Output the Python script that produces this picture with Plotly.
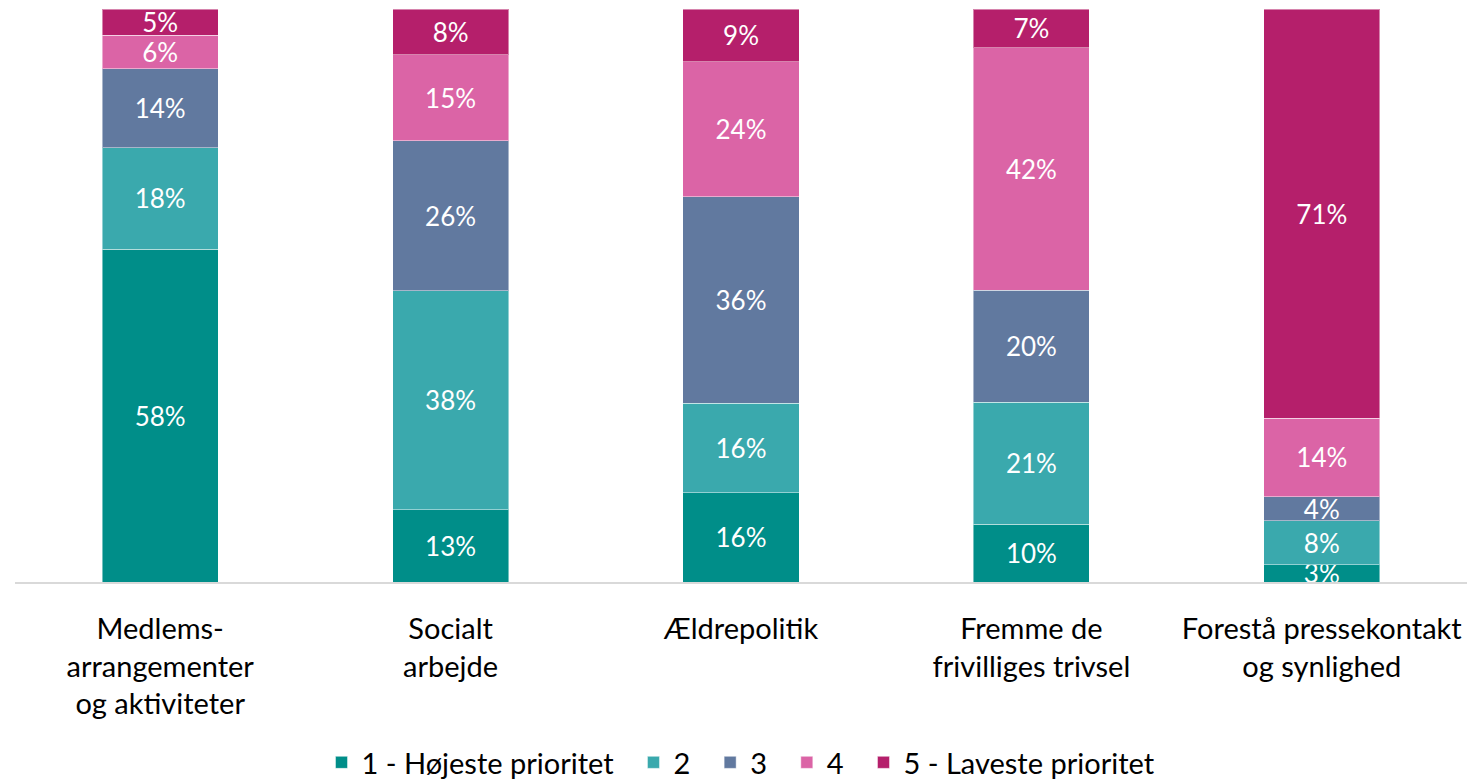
import plotly.graph_objects as go

categories = ["Medlems-<br>arrangementer<br>og aktiviteter", "Socialt<br>arbejde", "Ældrepolitik",
              "Fremme de<br>frivilliges trivsel", "Forestå pressekontakt<br>og synlighed"]
series_names = ["1 - Højeste prioritet", "2", "3", "4", "5 - Laveste prioritet"]
p1 = [58.1, 12.6, 15.6, 10.1, 3.0]
p2 = [17.7, 38.2, 15.6, 21.3, 7.7]
p3 = [13.8, 26.2, 36.0, 19.5, 4.2]
p4 = [5.8, 15.0, 23.6, 42.3, 13.7]
p5 = [4.6, 8.0, 9.2, 6.8, 71.4]
series_values = [p1, p2, p3, p4, p5]
colors = ["#008E89", "#3AA9AD", "#61799F", "#DB64A6", "#B51F6B"]

FONT = "Lato"
PAD = "\u00a0\u00a0"
fig = go.Figure()
for i, (name, vals, col) in enumerate(zip(series_names, series_values, colors)):
    fig.add_trace(go.Bar(
        x=categories, y=vals, name=name + (PAD if i < len(series_names) - 1 else ""),
        marker=dict(color=col, line=dict(color="rgba(255,255,255,0.45)", width=1)),
        texttemplate="%{y:.0f}%", textposition="inside", insidetextanchor="middle",
        textangle=0, insidetextfont=dict(color="white", size=26, family=FONT),
        hoverinfo="skip",
    ))

# page body has an 8px default margin, so the figure is sized/offset accordingly
fig.update_layout(
    barmode="stack", bargap=0.6,
    width=1460, height=773,
    margin=dict(l=7, r=1, t=1, b=199, autoexpand=False),
    paper_bgcolor="white", plot_bgcolor="white",
    font=dict(family=FONT, size=29, color="black"),
    uniformtext=dict(minsize=26, mode="show"),
    showlegend=True,
    legend=dict(orientation="h", x=0.5, xanchor="center", y=-0.315, yanchor="middle",
                font=dict(size=29, family=FONT), itemwidth=30, traceorder="normal"),
    xaxis=dict(showline=True, linecolor="#D9D9D9", linewidth=2, ticks="", automargin=False,
               tickfont=dict(size=29, family=FONT, color="black"), ticklabelstandoff=20),
    yaxis=dict(range=[0, 100], visible=False, showgrid=False, automargin=False),
)
fig.write_html("out.html")
